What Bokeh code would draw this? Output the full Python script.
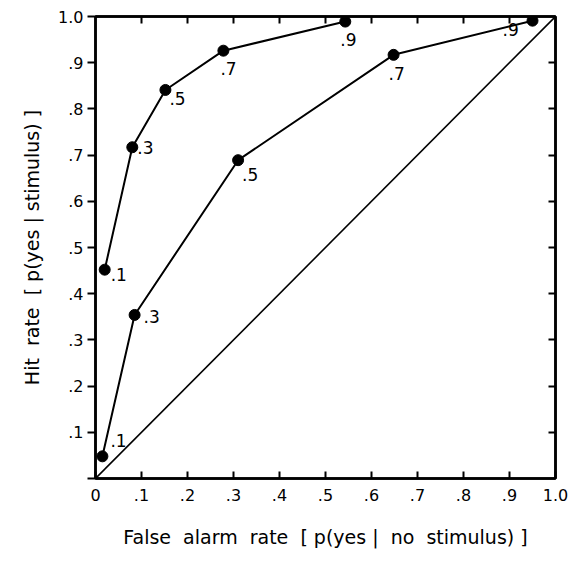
from bokeh.plotting import figure
from bokeh.models import Range1d, FixedTicker, LinearAxis, ColumnDataSource
from bokeh.core.properties import value
from bokeh.embed import file_html
from bokeh.resources import INLINE

# ---- data ----
criteria = [".1", ".3", ".5", ".7", ".9"]
upper_fa = [0.02, 0.08, 0.152, 0.278, 0.543]
upper_hit = [0.452, 0.717, 0.841, 0.926, 0.989]
lower_fa = [0.015, 0.085, 0.31, 0.648, 0.95]
lower_hit = [0.048, 0.354, 0.689, 0.917, 0.991]
chance_x = [0.0, 1.0]
chance_y = [0.0, 1.0]
tick_vals = [0.0, 0.1, 0.2, 0.3, 0.4, 0.5, 0.6, 0.7, 0.8, 0.9, 1.0]
x_tick_labels = ["0", ".1", ".2", ".3", ".4", ".5", ".6", ".7", ".8", ".9", "1.0"]
y_tick_labels = ["", ".1", ".2", ".3", ".4", ".5", ".6", ".7", ".8", ".9", "1.0"]

NB = "\u00a0"
x_title = f"False{NB} alarm{NB} rate{NB} [{NB}p(yes{NB}|{NB} no{NB} stimulus){NB}]"
y_title = f"Hit{NB} rate{NB} [{NB}p(yes{NB}|{NB}stimulus){NB}]"

FONT = "DejaVu Sans"

p = figure(width=570, height=562, output_backend="svg", toolbar_location=None,
           x_range=Range1d(0, 1), y_range=Range1d(0, 1),
           min_border_left=95, min_border_right=15, min_border_top=16, min_border_bottom=84)
p.grid.visible = False
p.outline_line_color = "black"
p.outline_line_width = 2.5
p.background_fill_color = "white"
p.border_fill_color = "white"

# bottom axis
xa = p.xaxis[0]
xa.ticker = FixedTicker(ticks=tick_vals)
xa.major_label_overrides = {v: l for v, l in zip(tick_vals, x_tick_labels)}
xa.major_tick_in = 7
xa.major_tick_out = 0
xa.minor_tick_line_color = None
xa.major_tick_line_width = 2
xa.axis_line_width = 2.5
xa.major_label_standoff = 10
xa.major_label_text_font = FONT
xa.major_label_text_font_size = "16px"
xa.major_label_text_color = "black"
xa.axis_label = x_title
xa.axis_label_text_font = FONT
xa.axis_label_text_font_style = "normal"
xa.axis_label_text_font_size = "19px"
xa.axis_label_text_color = "black"
xa.axis_label_standoff = 22

# left axis
ya = p.yaxis[0]
ya.ticker = FixedTicker(ticks=tick_vals)
ya.major_label_overrides = {v: l for v, l in zip(tick_vals, y_tick_labels)}
ya.major_tick_in = 0
ya.major_tick_out = 8
ya.minor_tick_line_color = None
ya.major_tick_line_width = 2
ya.axis_line_width = 2.5
ya.major_label_standoff = 4
ya.major_label_text_font = FONT
ya.major_label_text_font_size = "16px"
ya.major_label_text_color = "black"
ya.axis_label = y_title
ya.axis_label_text_font = FONT
ya.axis_label_text_font_style = "normal"
ya.axis_label_text_font_size = "19px"
ya.axis_label_text_color = "black"
ya.axis_label_standoff = 12

# top and right axes (ticks only)
inner = tick_vals[1:-1]
for loc in ("above", "right"):
    ax = LinearAxis(ticker=FixedTicker(ticks=inner),
                    major_label_overrides={v: "" for v in inner},
                    major_label_text_color=None,
                    major_tick_in=7, major_tick_out=0, major_tick_line_width=2,
                    minor_tick_line_color=None, axis_line_width=2.5,
                    major_label_standoff=0)
    p.add_layout(ax, loc)

# chance diagonal
p.line(chance_x, chance_y, line_color="black", line_width=1.6)

# curves (label offsets in screen pixels: +x right, +y down)
up = ColumnDataSource(dict(x=upper_fa, y=upper_hit, t=criteria,
                           dx=[6, 5, 4, -3, -5], dy=[5, 0, 9, 18, 18]))
lo = ColumnDataSource(dict(x=lower_fa, y=lower_hit, t=criteria,
                           dx=[8, 9, 4, -5, -30], dy=[-16, 2, 14, 19, 9]))
for src in (up, lo):
    p.line("x", "y", source=src, line_color="black", line_width=2)
    p.scatter("x", "y", source=src, size=11, fill_color="black", line_color="black")
    p.text("x", "y", text="t", source=src, x_offset="dx", y_offset="dy",
           text_font=value(FONT), text_font_size="17px", text_color="black",
           text_align="left", text_baseline="middle")

open("out.html", "w").write(file_html(p, INLINE))
